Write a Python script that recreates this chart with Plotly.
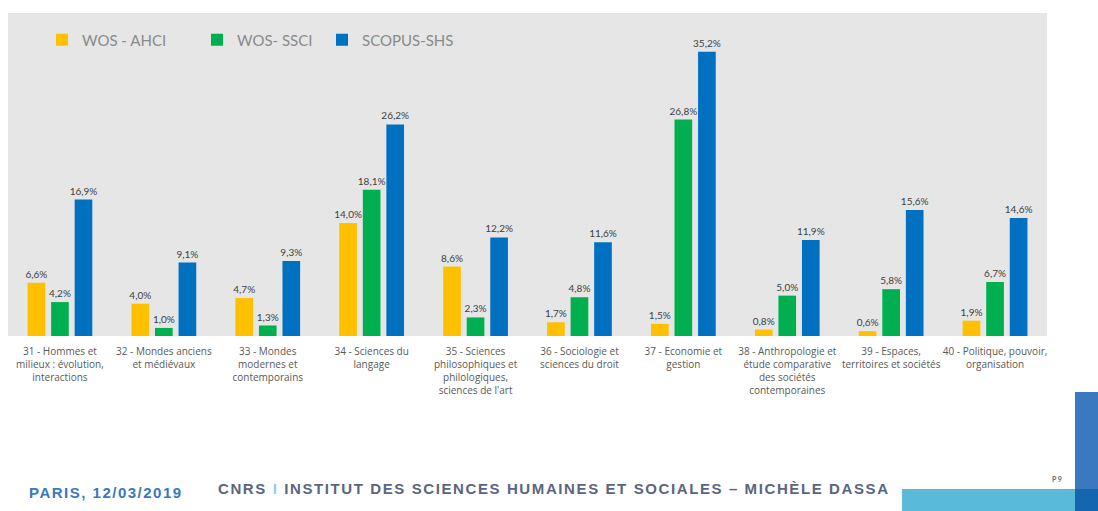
import plotly.graph_objects as go

categories = [
    "31 - Hommes et<br>milieux : évolution,<br>interactions",
    "32 - Mondes anciens<br>et médiévaux",
    "33 - Mondes<br>modernes et<br>contemporains",
    "34 - Sciences du<br>langage",
    "35 - Sciences<br>philosophiques et<br>philologiques,<br>sciences de l'art",
    "36 - Sociologie et<br>sciences du droit",
    "37 - Economie et<br>gestion",
    "38 - Anthropologie et<br>étude comparative<br>des sociétés<br>contemporaines",
    "39 - Espaces,<br>territoires et sociétés",
    "40 - Politique, pouvoir,<br>organisation",
]
wos_ahci = [6.6, 4.0, 4.7, 14.0, 8.6, 1.7, 1.5, 0.8, 0.6, 1.9]
wos_ssci = [4.2, 1.0, 1.3, 18.1, 2.3, 4.8, 26.8, 5.0, 5.8, 6.7]
scopus_shs = [16.9, 9.1, 9.3, 26.2, 12.2, 11.6, 35.2, 11.9, 15.6, 14.6]
series_names = ["WOS - AHCI", "WOS- SSCI", "SCOPUS-SHS"]
series_colors = ["#FFC000", "#00B050", "#0070C0"]


def fmt(v):
    return f"{v:.1f}%".replace(".", ",")


W, H = 1098, 511
ML, MR, MT, MB = 8, 51, 13, 175
PW, PH = W - ML - MR, H - MT - MB


def px(x):
    return (x - ML) / PW


def py(y):
    return (H - MB - y) / PH


fig = go.Figure()
legend_ids = ["legend", "legend2", "legend3"]
legend_px = [42, 197, 322]
for name, vals, col, lid in zip(series_names, [wos_ahci, wos_ssci, scopus_shs], series_colors, legend_ids):
    fig.add_trace(go.Bar(
        name=name, x=categories, y=vals, marker_color=col,
        marker_line_width=0,
        text=[fmt(v) for v in vals], textposition="outside",
        constraintext="none",
        textfont=dict(size=10, color="#404040", family="Lato"),
        cliponaxis=False, legend=lid,
    ))

legend_common = dict(orientation="h", y=py(40), yanchor="middle", xanchor="left",
                     bgcolor="rgba(0,0,0,0)",
                     font=dict(family="Lato", size=15, color="#8A8A8A"),
                     itemwidth=30)
layout_legends = {}
for lid, lx in zip(legend_ids, legend_px):
    layout_legends[lid] = dict(legend_common, x=px(lx))

fig.update_layout(
    width=W, height=H,
    margin=dict(l=ML, r=MR, t=MT, b=MB, autoexpand=False),
    paper_bgcolor="white", plot_bgcolor="#E6E6E6",
    barmode="group", bargap=0.32, bargroupgap=0.25,
    showlegend=True,
    font=dict(family="Lato", color="#595959"),
    xaxis=dict(showgrid=False, zeroline=False, showline=False, automargin=False,
               tickfont=dict(size=10, color="#595959", family="Open Sans"),
               ticks="", tickangle=0, ticklabelstandoff=8),
    yaxis=dict(range=[0, 40], visible=False, showgrid=False, automargin=False),
    **layout_legends,
)

# footer decorations
fig.add_shape(type="rect", xref="paper", yref="paper",
              x0=px(902), x1=px(1098), y0=py(511), y1=py(489),
              fillcolor="#5BBAD9", line_width=0, layer="above")
fig.add_shape(type="rect", xref="paper", yref="paper",
              x0=px(1075), x1=px(1098), y0=py(511), y1=py(392),
              fillcolor="#3A78BF", line_width=0, layer="above")
fig.add_shape(type="rect", xref="paper", yref="paper",
              x0=px(1075), x1=px(1098), y0=py(511), y1=py(489),
              fillcolor="#1466B0", line_width=0, layer="above")

footer_font = "Liberation Sans, Arial"
fig.add_annotation(text="<b><span style='letter-spacing:1.5px'>PARIS, 12/03/2019</span></b>",
                   xref="paper", yref="paper",
                   x=px(27), y=py(492), xanchor="left", yanchor="middle",
                   showarrow=False, font=dict(family=footer_font, size=15, color="#3A78BF"))
fig.add_annotation(text="<b><span style='letter-spacing:1.6px'>CNRS <span style='color:#8FD0E8'>I</span> INSTITUT DES SCIENCES HUMAINES ET SOCIALES – MICHÈLE DASSA</span></b>",
                   xref="paper", yref="paper",
                   x=px(216), y=py(488), xanchor="left", yanchor="middle",
                   showarrow=False, font=dict(family=footer_font, size=15, color="#5A6680"))
fig.add_annotation(text="<b>P 9</b>", xref="paper", yref="paper",
                   x=px(1057), y=py(479), xanchor="center", yanchor="middle",
                   showarrow=False, font=dict(family="Lato", size=7, color="#5A6680"))

fig.write_html("out.html", post_script="document.body.style.margin='0';",
               config={"displayModeBar": False})
